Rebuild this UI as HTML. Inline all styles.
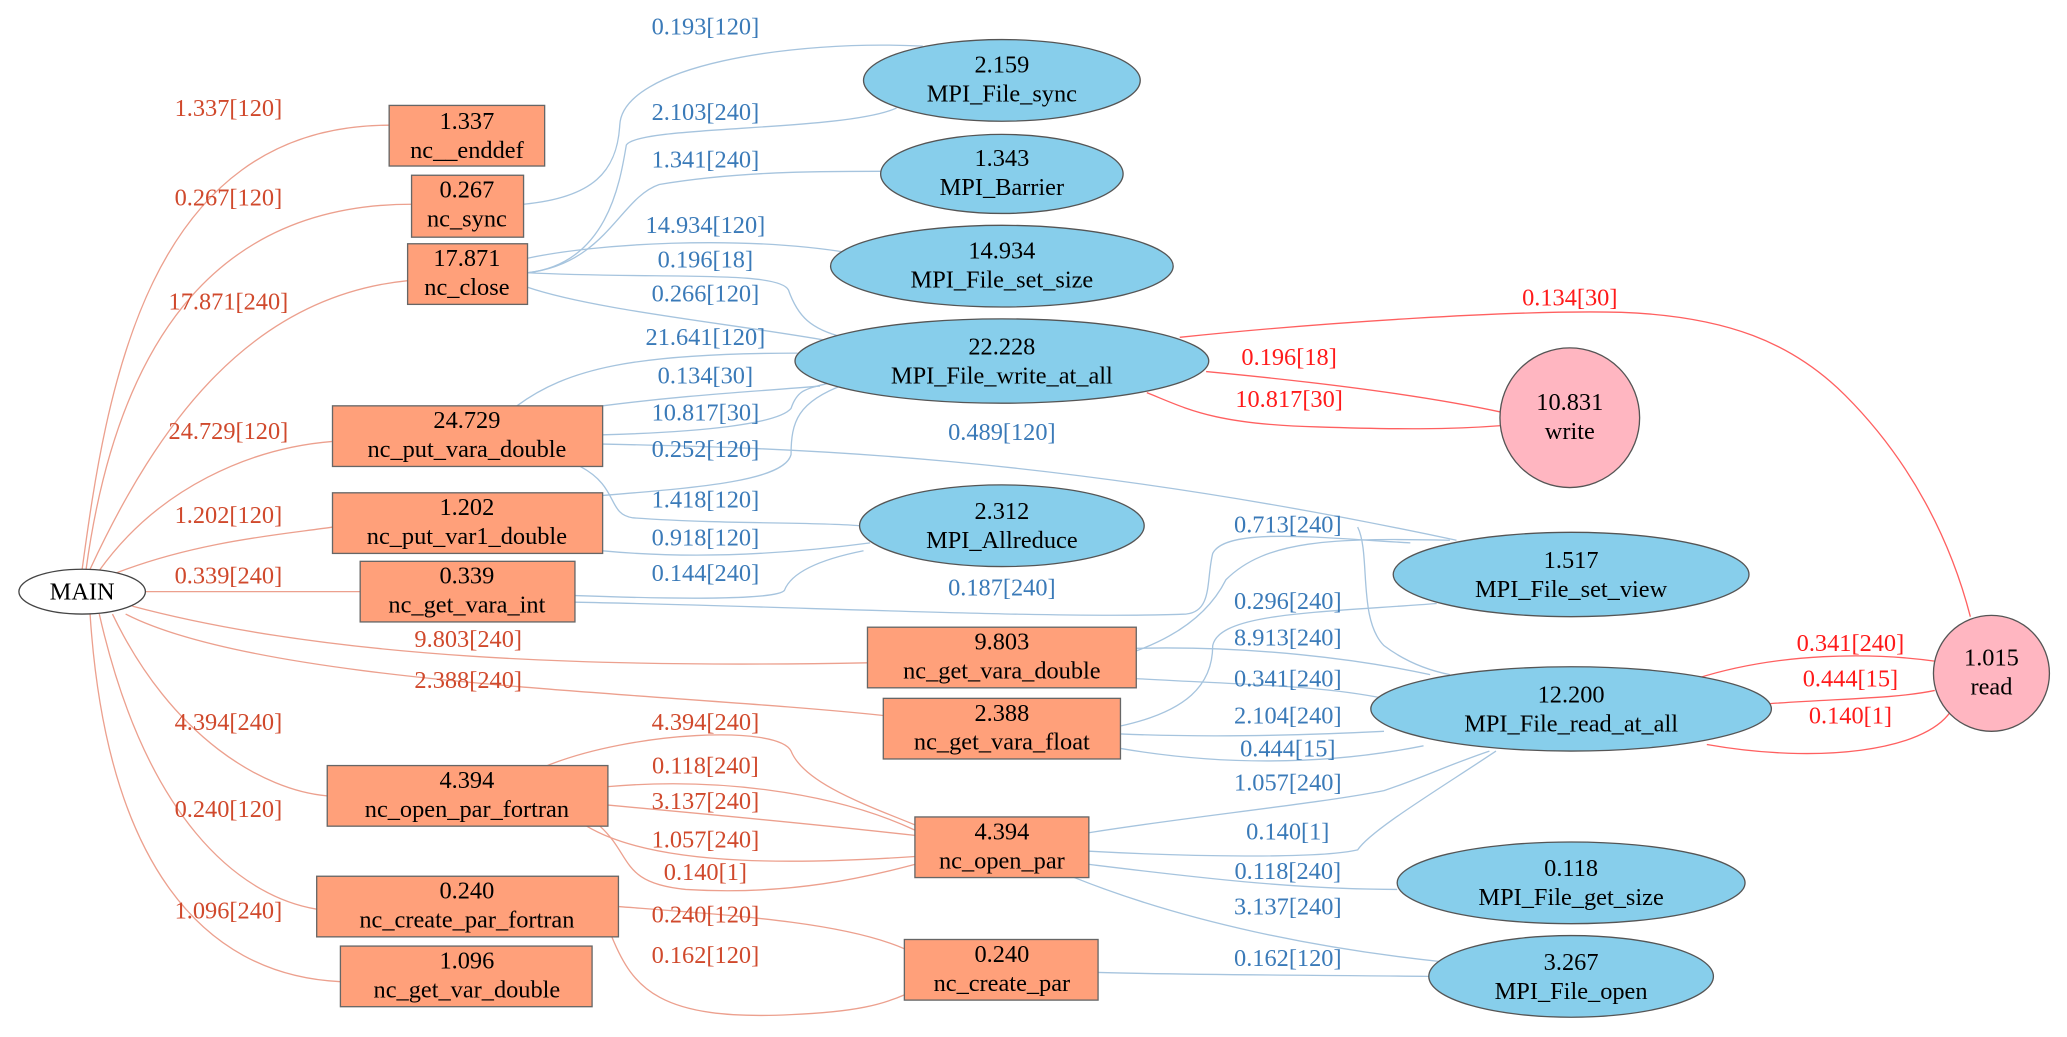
<!DOCTYPE html>
<html><head><meta charset="utf-8"><style>
html,body{margin:0;padding:0;background:#fff;}
svg{display:block;}
text{font-family:"Liberation Serif",serif;font-size:18.5px;text-anchor:middle;}
.r{fill:#d0492c;}.b{fill:#3a7ab8;}.rr{fill:#ff1a1a;}
.er{fill:none;stroke:#eca08e;stroke-width:1;}
.eb{fill:none;stroke:#a6c4de;stroke-width:1;}
.ex{fill:none;stroke:#ff6060;stroke-width:1;}
.box{fill:#ffa07a;stroke:#666;stroke-width:1;}
.ell{fill:#87ceeb;stroke:#555;stroke-width:1;}
.pk{fill:#ffb6c1;stroke:#555;stroke-width:1;}
</style></head><body>
<svg width="2067" height="1037" viewBox="0 0 1568 787" xmlns="http://www.w3.org/2000/svg">
<path class="er" d="M62,432 C80,300 110,95 295,95"/>
<path class="er" d="M65,432 C90,250 170,155 312,155"/>
<path class="er" d="M68,432 C120,320 190,225 309,213"/>
<path class="er" d="M75,433 C120,370 190,340 252,335"/>
<path class="er" d="M85,436 C150,410 220,405 252,400"/>
<path class="er" d="M110,449 L273,449"/>
<path class="er" d="M100,460 C250,500 450,507 658,503"/>
<path class="er" d="M95,466 C200,520 500,525 670,543"/>
<path class="er" d="M85,466 C130,560 200,600 248,604"/>
<path class="er" d="M75,466 C110,620 180,680 240,690"/>
<path class="er" d="M68,466 C80,650 150,740 258,745"/>
<path class="er" d="M415,581 C480,555 590,550 600,570 C610,595 660,612 694,626"/>
<path class="er" d="M461,597 C540,590 630,600 694,630"/>
<path class="er" d="M461,611 C560,620 640,628 694,634"/>
<path class="er" d="M445,627 C500,660 620,655 694,650"/>
<path class="er" d="M455,627 C480,650 470,670 520,675 C600,680 660,665 694,656"/>
<path class="er" d="M469,688 C560,695 640,700 686,720"/>
<path class="er" d="M464,711 C480,750 500,775 600,770 C650,768 670,762 686,755"/>
<path class="eb" d="M397,155 C450,150 468,130 470,95 C472,50 600,30 700,35"/>
<path class="eb" d="M400,207 C460,200 470,140 475,110 C485,95 640,100 680,82"/>
<path class="eb" d="M400,207 C460,200 470,150 500,140 C560,130 620,130 668,130"/>
<path class="eb" d="M400,196 C450,185 560,178 645,192"/>
<path class="eb" d="M400,207 C500,212 590,205 598,220 C605,240 615,250 640,256"/>
<path class="eb" d="M400,218 C450,235 550,245 625,258"/>
<path class="eb" d="M392,308 C430,280 480,268 605,268"/>
<path class="eb" d="M457,308 C520,300 560,298 622,293"/>
<path class="eb" d="M457,330 C530,328 590,322 600,310 C605,295 612,295 632,290"/>
<path class="eb" d="M457,376 C530,370 595,365 600,345 C600,320 605,305 640,292"/>
<path class="eb" d="M457,337 C600,340 800,345 1105,410"/>
<path class="eb" d="M440,354 C470,370 460,390 480,393 C550,398 620,396 652,399"/>
<path class="eb" d="M457,418 C530,425 600,420 660,412"/>
<path class="eb" d="M436,452 C520,455 590,455 595,448 C600,435 620,425 655,418"/>
<path class="eb" d="M436,457 C600,460 800,470 900,466 C920,464 915,440 920,420 C930,400 1000,408 1070,412"/>
<path class="eb" d="M862,494 C900,480 920,460 930,440 C960,410 1010,408 1100,410"/>
<path class="eb" d="M862,515 C950,520 1000,520 1050,530"/>
<path class="eb" d="M862,492 C950,490 1030,500 1085,512"/>
<path class="eb" d="M850,551 C900,540 920,520 920,490 C925,465 1000,465 1090,458"/>
<path class="eb" d="M1030,400 C1040,420 1030,470 1050,490 C1070,505 1090,510 1100,512"/>
<path class="eb" d="M850,557 C920,560 990,558 1050,555"/>
<path class="eb" d="M850,568 C920,580 1000,582 1080,566"/>
<path class="eb" d="M826,632 C900,620 1000,610 1050,600 C1080,590 1100,580 1130,570"/>
<path class="eb" d="M826,646 C900,650 1000,652 1030,645 C1040,630 1090,600 1135,570"/>
<path class="eb" d="M826,656 C900,665 980,675 1060,675"/>
<path class="eb" d="M815,666 C900,700 1000,720 1095,730"/>
<path class="eb" d="M833,738 C900,740 1000,740 1084,741"/>
<path class="ex" d="M895,256 C1000,245 1150,235 1230,237 C1310,240 1360,260 1400,300 C1450,350 1480,410 1495,468"/>
<path class="ex" d="M915,282 C1000,290 1080,300 1140,313"/>
<path class="ex" d="M870,298 C900,310 920,322 1000,324 C1060,326 1100,326 1139,323"/>
<path class="ex" d="M1287,515 C1350,495 1420,495 1470,502"/>
<path class="ex" d="M1343,534 C1400,530 1440,530 1468,524"/>
<path class="ex" d="M1295,565 C1380,580 1460,570 1480,540"/>
<text class="r" x="173" y="88">1.337[120]</text>
<text class="r" x="173" y="156">0.267[120]</text>
<text class="r" x="173" y="235">17.871[240]</text>
<text class="r" x="173" y="333">24.729[120]</text>
<text class="r" x="173" y="397">1.202[120]</text>
<text class="r" x="173" y="443">0.339[240]</text>
<text class="r" x="355" y="491">9.803[240]</text>
<text class="r" x="355" y="522">2.388[240]</text>
<text class="r" x="173" y="554">4.394[240]</text>
<text class="r" x="173" y="620">0.240[120]</text>
<text class="r" x="173" y="697">1.096[240]</text>
<text class="r" x="535" y="554">4.394[240]</text>
<text class="r" x="535" y="587">0.118[240]</text>
<text class="r" x="535" y="614">3.137[240]</text>
<text class="r" x="535" y="643">1.057[240]</text>
<text class="r" x="535" y="668">0.140[1]</text>
<text class="r" x="535" y="700">0.240[120]</text>
<text class="r" x="535" y="731">0.162[120]</text>
<text class="b" x="535" y="26">0.193[120]</text>
<text class="b" x="535" y="91">2.103[240]</text>
<text class="b" x="535" y="127">1.341[240]</text>
<text class="b" x="535" y="177">14.934[120]</text>
<text class="b" x="535" y="203">0.196[18]</text>
<text class="b" x="535" y="229">0.266[120]</text>
<text class="b" x="535" y="262">21.641[120]</text>
<text class="b" x="535" y="291">0.134[30]</text>
<text class="b" x="535" y="319">10.817[30]</text>
<text class="b" x="535" y="347">0.252[120]</text>
<text class="b" x="535" y="385">1.418[120]</text>
<text class="b" x="535" y="414">0.918[120]</text>
<text class="b" x="535" y="441">0.144[240]</text>
<text class="b" x="760" y="334">0.489[120]</text>
<text class="b" x="760" y="452">0.187[240]</text>
<text class="b" x="977" y="404">0.713[240]</text>
<text class="b" x="977" y="462">0.296[240]</text>
<text class="b" x="977" y="490">8.913[240]</text>
<text class="b" x="977" y="521">0.341[240]</text>
<text class="b" x="977" y="549">2.104[240]</text>
<text class="b" x="977" y="574">0.444[15]</text>
<text class="b" x="977" y="600">1.057[240]</text>
<text class="b" x="977" y="637">0.140[1]</text>
<text class="b" x="977" y="667">0.118[240]</text>
<text class="b" x="977" y="694">3.137[240]</text>
<text class="b" x="977" y="733">0.162[120]</text>
<text class="rr" x="1191" y="232">0.134[30]</text>
<text class="rr" x="978" y="277">0.196[18]</text>
<text class="rr" x="978" y="309">10.817[30]</text>
<text class="rr" x="1404" y="494">0.341[240]</text>
<text class="rr" x="1404" y="521">0.444[15]</text>
<text class="rr" x="1404" y="549">0.140[1]</text>
<ellipse cx="62" cy="449" rx="48" ry="17" fill="#fff" stroke="#444"/>
<text x="62" y="455">MAIN</text>
<g>
<rect class="box" x="295" y="80" width="118" height="46"/><text x="354" y="98">1.337</text><text x="354" y="120">nc__enddef</text>
<rect class="box" x="312" y="133" width="85" height="47"/><text x="354" y="150">0.267</text><text x="354" y="172">nc_sync</text>
<rect class="box" x="309" y="185" width="91" height="46"/><text x="354" y="202">17.871</text><text x="354" y="224">nc_close</text>
<rect class="box" x="252" y="308" width="205" height="46"/><text x="354" y="325">24.729</text><text x="354" y="347">nc_put_vara_double</text>
<rect class="box" x="252" y="374" width="205" height="46"/><text x="354" y="391">1.202</text><text x="354" y="413">nc_put_var1_double</text>
<rect class="box" x="273" y="426" width="163" height="46"/><text x="354" y="443">0.339</text><text x="354" y="465">nc_get_vara_int</text>
<rect class="box" x="658" y="476" width="204" height="46"/><text x="760" y="493">9.803</text><text x="760" y="515">nc_get_vara_double</text>
<rect class="box" x="670" y="530" width="180" height="46"/><text x="760" y="547">2.388</text><text x="760" y="569">nc_get_vara_float</text>
<rect class="box" x="248" y="581" width="213" height="46"/><text x="354" y="598">4.394</text><text x="354" y="620">nc_open_par_fortran</text>
<rect class="box" x="694" y="620" width="132" height="46"/><text x="760" y="637">4.394</text><text x="760" y="659">nc_open_par</text>
<rect class="box" x="240" y="665" width="229" height="46"/><text x="354" y="682">0.240</text><text x="354" y="704">nc_create_par_fortran</text>
<rect class="box" x="258" y="718" width="191" height="46"/><text x="354" y="735">1.096</text><text x="354" y="757">nc_get_var_double</text>
<rect class="box" x="686" y="713" width="147" height="46"/><text x="760" y="730">0.240</text><text x="760" y="752">nc_create_par</text>
</g>
<ellipse class="ell" cx="760" cy="61" rx="105" ry="31"/><text x="760" y="55">2.159</text><text x="760" y="77">MPI_File_sync</text>
<ellipse class="ell" cx="760" cy="132" rx="92" ry="30"/><text x="760" y="126">1.343</text><text x="760" y="148">MPI_Barrier</text>
<ellipse class="ell" cx="760" cy="202" rx="130" ry="31"/><text x="760" y="196">14.934</text><text x="760" y="218">MPI_File_set_size</text>
<ellipse class="ell" cx="760" cy="274" rx="157" ry="32"/><text x="760" y="269">22.228</text><text x="760" y="291">MPI_File_write_at_all</text>
<ellipse class="ell" cx="760" cy="399" rx="108" ry="31"/><text x="760" y="394">2.312</text><text x="760" y="416">MPI_Allreduce</text>
<ellipse class="ell" cx="1192" cy="436" rx="135" ry="32"/><text x="1192" y="431">1.517</text><text x="1192" y="453">MPI_File_set_view</text>
<ellipse class="ell" cx="1192" cy="538" rx="152" ry="32"/><text x="1192" y="533">12.200</text><text x="1192" y="555">MPI_File_read_at_all</text>
<ellipse class="ell" cx="1192" cy="670" rx="132" ry="31"/><text x="1192" y="665">0.118</text><text x="1192" y="687">MPI_File_get_size</text>
<ellipse class="ell" cx="1192" cy="741" rx="108" ry="31"/><text x="1192" y="736">3.267</text><text x="1192" y="758">MPI_File_open</text>
<circle class="pk" cx="1191" cy="317" r="53"/><text x="1191" y="311">10.831</text><text x="1191" y="333">write</text>
<circle class="pk" cx="1511" cy="511" r="44"/><text x="1511" y="505">1.015</text><text x="1511" y="527">read</text>
</svg>
</body></html>
